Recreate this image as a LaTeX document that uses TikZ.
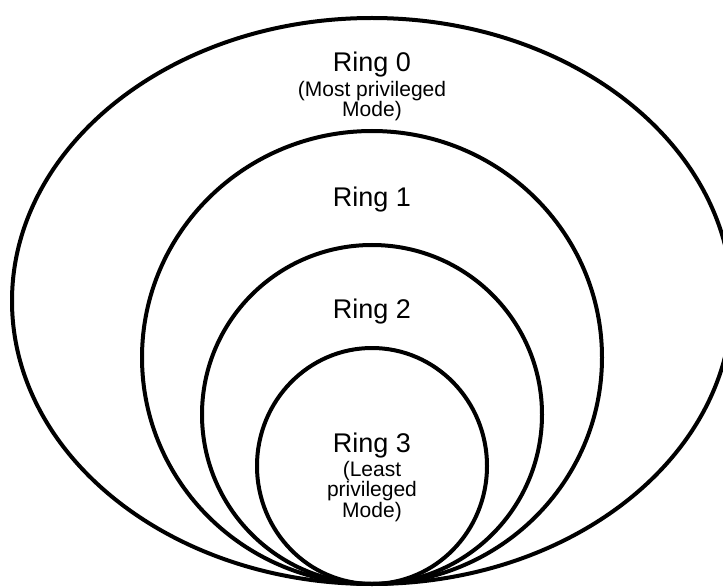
\documentclass[tikz,border=0pt]{standalone}
\usepackage{fontspec}
\setmainfont{Liberation Sans}
\tikzset{
	ring/.style={line width=4pt},
	ringname/.style={anchor=base, font=\fontsize{27}{30}\selectfont},
	ringnote/.style={anchor=base, align=center, font=\fontsize{21}{20.5}\selectfont},
}
\begin{document}
\begin{tikzpicture}[x=1pt, y=-1pt]
		\useasboundingbox (0,0) rectangle (723,588);
		% rings, all touching at the bottom
		\draw[ring] (372,301) ellipse [x radius=360, y radius=283];
		\draw[ring] (372,357.5) ellipse [x radius=230, y radius=226.5];
		\draw[ring] (372,414.5) ellipse [x radius=170, y radius=169.5];
		\draw[ring] (372,466) ellipse [x radius=115, y radius=118];
		% ring labels (notes sit on the baseline of their last line)
		\node[ringname] (ringzero) at (372,72) {Ring 0};
		\node[ringnote] (ringzeronote) at (372,117) {(Most privileged\\Mode)};
		\node[ringname] (ringone) at (372,207) {Ring 1};
		\node[ringname] (ringtwo) at (372,318) {Ring 2};
		\node[ringname] (ringthree) at (372,452) {Ring 3};
		\node[ringnote] (ringthreenote) at (372,517) {(Least\\privileged\\Mode)};
	\end{tikzpicture}
\end{document}
